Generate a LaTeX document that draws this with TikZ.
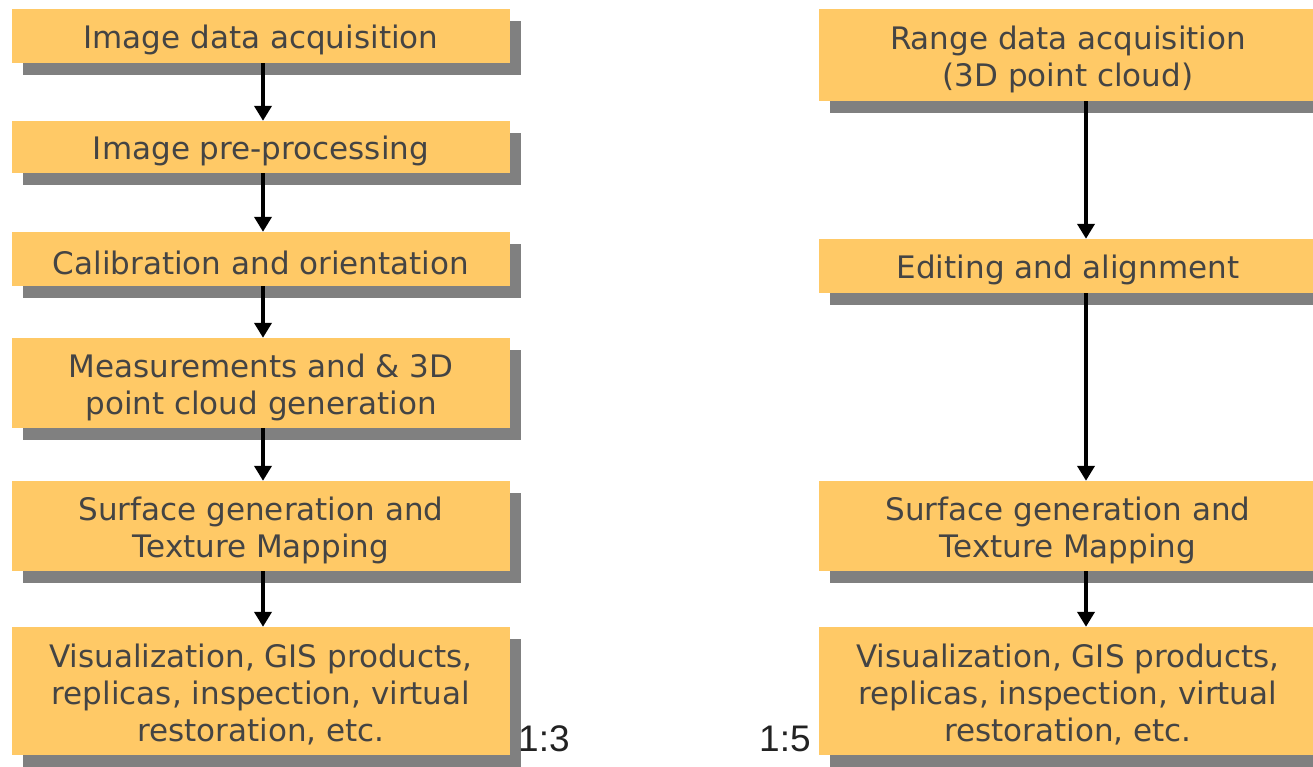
\documentclass[tikz,border=0pt]{standalone}
\usepackage{fontspec}
\setmainfont{DejaVu Sans}
\newfontfamily\labfont{Liberation Sans}
\usetikzlibrary{arrows.meta,shadows}
\definecolor{boxfill}{RGB}{255,201,102}
\definecolor{shadowgray}{RGB}{128,128,128}
\definecolor{textgray}{RGB}{68,68,68}
\definecolor{labgray}{RGB}{34,34,34}
\begin{document}
\begin{tikzpicture}[x=1pt,y=1pt,
  box/.style={rectangle, fill=boxfill, inner sep=0pt, minimum width=498pt,
    drop shadow={shadow xshift=11pt, shadow yshift=-12pt, fill=shadowgray, opacity=1}},
  txt/.style={font=\fontsize{31}{37}\selectfont, text=textgray, align=center, inner sep=0pt},
  arr/.style={line width=4.6pt, -{Triangle[width=17pt,length=15pt]}},
  lab/.style={font=\labfont\fontsize{37}{40}\selectfont, text=labgray, inner sep=0pt, anchor=base west}
]
\useasboundingbox (0,0) rectangle (1313,-767);
% left column
\node[box, minimum height=54pt] (b1) at (261,-36) {};
\node[box, minimum height=52pt] (b2) at (261,-147) {};
\node[box, minimum height=54pt] (b3) at (261,-259) {};
\node[box, minimum height=90pt] (b4) at (261,-383) {};
\node[box, minimum height=90pt] (b5) at (261,-526) {};
\node[box, minimum height=128pt] (b6) at (261,-691) {};
% right column
\node[box, minimum height=92pt] (r1) at (1068,-55) {};
\node[box, minimum height=54pt] (r2) at (1068,-266) {};
\node[box, minimum height=90pt] (r3) at (1068,-526) {};
\node[box, minimum height=128pt] (r4) at (1068,-691) {};
% texts
\node[txt] (t1) at ([yshift=-4pt]b1.center) {Image data acquisition};
\node[txt] (t2) at ([yshift=-4pt]b2.center) {Image pre-processing};
\node[txt] (t3) at ([yshift=-4pt]b3.center) {Calibration and orientation};
\node[txt] (t4) at ([yshift=-4pt]b4.center) {Measurements and \& 3D\\point cloud generation};
\node[txt] (t5) at ([yshift=-4pt]b5.center) {Surface generation and\\Texture Mapping};
\node[txt] (t6) at ([yshift=-4pt]b6.center) {Visualization, GIS products,\\replicas, inspection, virtual\\restoration, etc.};
\node[txt] (u1) at ([yshift=-4pt]r1.center) {Range data acquisition\\(3D point cloud)};
\node[txt] (u2) at ([yshift=-4pt]r2.center) {Editing and alignment};
\node[txt] (u3) at ([yshift=-4pt]r3.center) {Surface generation and\\Texture Mapping};
\node[txt] (u4) at ([yshift=-4pt]r4.center) {Visualization, GIS products,\\replicas, inspection, virtual\\restoration, etc.};
% arrows
\draw[arr] ([xshift=2pt]b1.south) -- ([xshift=2pt]b2.north);
\draw[arr] ([xshift=2pt]b2.south) -- ([xshift=2pt]b3.north);
\draw[arr] ([xshift=2pt]b3.south) -- ([xshift=2pt]b4.north);
\draw[arr] ([xshift=2pt]b4.south) -- ([xshift=2pt]b5.north);
\draw[arr] ([xshift=2pt]b5.south) -- ([xshift=2pt]b6.north);
\draw[arr] ([xshift=18pt]r1.south) -- ([xshift=18pt]r2.north);
\draw[arr] ([xshift=18pt]r2.south) -- ([xshift=18pt]r3.north);
\draw[arr] ([xshift=18pt]r3.south) -- ([xshift=18pt]r4.north);
% ratio labels
\node[lab] (l13) at (518,-751) {1:3};
\node[lab] (l15) at (759,-751) {1:5};
\end{tikzpicture}
\end{document}
